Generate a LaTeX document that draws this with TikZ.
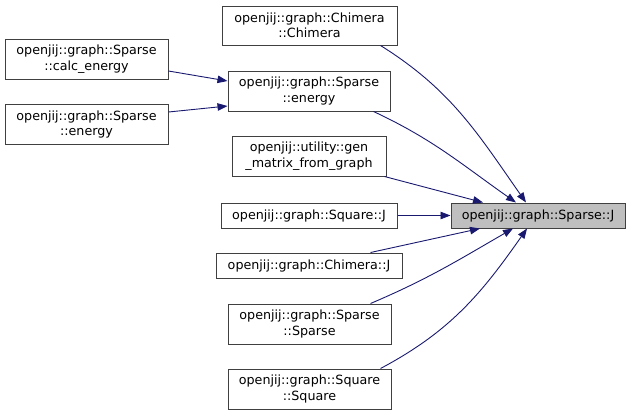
\documentclass[tikz,border=0pt]{standalone}
\usepackage{fontspec}
\setmainfont{DejaVu Sans}
\usetikzlibrary{arrows.meta}
\definecolor{edgeblue}{HTML}{191970}
\definecolor{boxline}{HTML}{404040}
\definecolor{hitfill}{HTML}{BFBFBF}
\begin{document}
\begin{tikzpicture}[x=1pt, y=1pt,
	fn/.style={draw=boxline, line width=1pt, rectangle, inner sep=0pt, align=center,
		font=\fontsize{12.7}{15.5}\selectfont},
	call/.style={draw=edgeblue, line width=0.9pt, -{Triangle[length=10pt, width=7.5pt]}}]
	\useasboundingbox (0,0) rectangle (631,-416);
	% called function
	\node[fn, fill=hitfill, minimum width=174pt, minimum height=25pt] (sparsej) at (538,-215.5) {openjij::graph::Sparse::J};
	% callers
	\node[fn, minimum width=175pt, minimum height=39pt] (chimera) at (309.5,-25.5) {openjij::graph::Chimera\\::Chimera};
	\node[fn, minimum width=162pt, minimum height=40pt] (energymid) at (309,-91) {openjij::graph::Sparse\\::energy};
	\node[fn, minimum width=154pt, minimum height=40pt] (genmat) at (309,-156) {openjij::utility::gen\\\_matrix\_from\_graph};
	\node[fn, minimum width=176pt, minimum height=25pt] (squarej) at (309,-215.5) {openjij::graph::Square::J};
	\node[fn, minimum width=186pt, minimum height=25pt] (chimeraj) at (309,-265.5) {openjij::graph::Chimera::J};
	\node[fn, minimum width=163pt, minimum height=40pt] (sparsector) at (309.5,-324) {openjij::graph::Sparse\\::Sparse};
	\node[fn, minimum width=163pt, minimum height=40pt] (squarector) at (309.5,-389) {openjij::graph::Square\\::Square};
	\node[fn, minimum width=163pt, minimum height=40pt] (calcenergy) at (86.5,-59) {openjij::graph::Sparse\\::calc\_energy};
	\node[fn, minimum width=163pt, minimum height=40pt] (energyleft) at (86.5,-124.5) {openjij::graph::Sparse\\::energy};
	% edges
	\draw[call] ([xshift=-17pt]chimera.south east) to[out=-32, in=125] ([xshift=-12pt]sparsej.north);
	\draw[call] ([xshift=-17pt]energymid.south east) to[out=-25, in=145] ([xshift=-22pt]sparsej.north);
	\draw[call] ([xshift=-2pt]genmat.south east) -- ([xshift=-55pt]sparsej.north);
	\draw[call] (squarej) -- (sparsej);
	\draw[call] ([xshift=-32pt]chimeraj.north east) -- ([xshift=-58pt]sparsej.south);
	\draw[call] ([xshift=-21pt]sparsector.north east) to[out=23, in=-150] ([xshift=-25pt]sparsej.south);
	\draw[call] ([xshift=-11pt]squarector.north east) to[out=28, in=-125] ([xshift=-11pt]sparsej.south);
	\draw[call] ([yshift=-12pt]calcenergy.east) -- ([yshift=10pt]energymid.west);
	\draw[call] ([yshift=12.5pt]energyleft.east) -- ([yshift=-15pt]energymid.west);
\end{tikzpicture}
\end{document}
